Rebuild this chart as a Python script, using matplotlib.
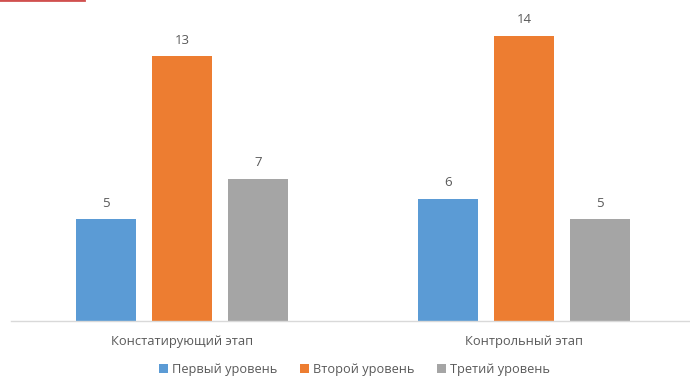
import numpy as np
import matplotlib.pyplot as plt
from matplotlib.lines import Line2D

plt.rcParams['font.family'] = ['Open Sans', 'DejaVu Sans']

# данные диаграммы
этапы = ['Констатирующий этап', 'Контрольный этап']
уровни = ['Первый уровень', 'Второй уровень', 'Третий уровень']
первый = [5, 6]
второй = [13, 14]
третий = [7, 5]
цвета = ['#5B9BD5', '#ED7D31', '#A5A5A5']

fig = plt.figure(figsize=(6.9, 3.78), dpi=100)
ax = fig.add_axes([0.0158, 0.1508, 0.9916, 0.8075])

x = np.arange(len(этапы))
ширина = 0.174
сдвиг = 0.222

for i, (вал, цвет, имя) in enumerate(zip([первый, второй, третий], цвета, уровни)):
    столбцы = ax.bar(x + (i - 1) * сдвиг, вал, ширина, color=цвет, label=имя)
    for b, v in zip(столбцы, вал):
        ax.annotate(str(v), (b.get_x() + b.get_width() / 2, v),
                    xytext=(0, 7), textcoords='offset points',
                    ha='center', va='bottom', fontsize=9.5, color='#595959')

ax.set_xlim(-0.5, 1.5)
ax.set_ylim(0, 15)
ax.set_xticks(x)
ax.set_xticklabels(этапы, fontsize=9.3, color='#595959')
ax.tick_params(axis='x', length=0, pad=10)
ax.set_yticks([])
for s in ['top', 'left', 'right']:
    ax.spines[s].set_visible(False)
ax.spines['bottom'].set_color('#D9D9D9')
ax.spines['bottom'].set_linewidth(1)

fig.legend(loc='center', bbox_to_anchor=(0.514, 0.022), ncol=3, frameon=False,
           fontsize=9.2, labelcolor='#595959', handlelength=0.7, handleheight=0.7,
           handletextpad=0.3, columnspacing=1.8)

# красная черта в левом верхнем углу
fig.add_artist(Line2D([0, 84 / 690], [0.999, 0.999], color='#D0504F', lw=2,
                      transform=fig.transFigure))

fig.savefig('out.png', dpi=100)
